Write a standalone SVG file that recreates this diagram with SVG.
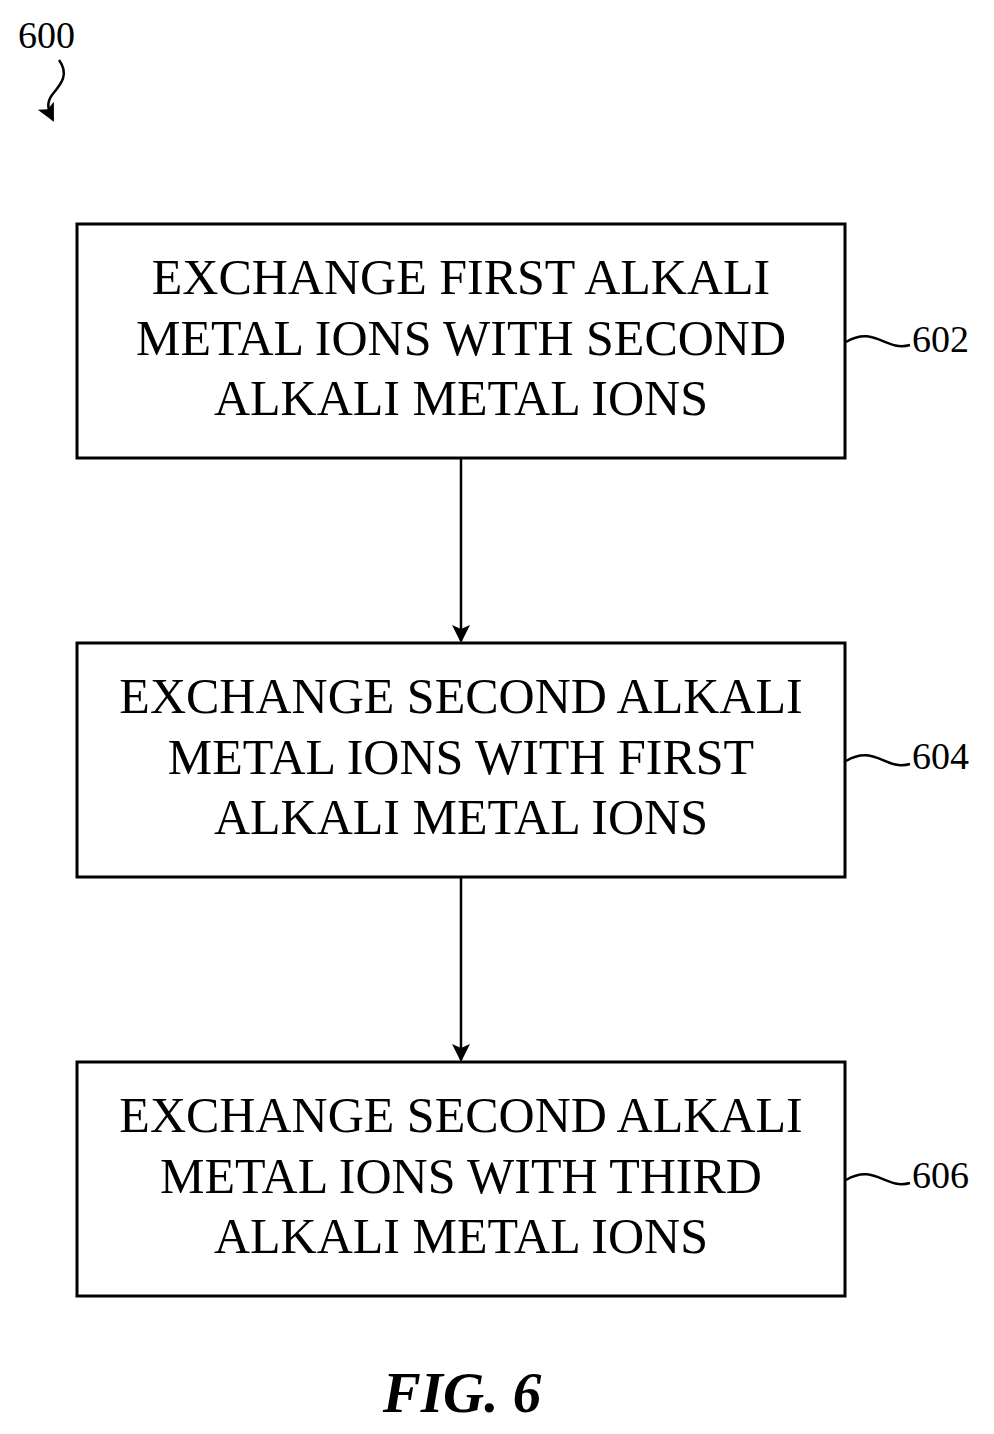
<svg xmlns="http://www.w3.org/2000/svg" width="994" height="1434" viewBox="0 0 994 1434">
<style>
.box{fill:#fff;stroke:#000;stroke-width:3}
.t{font-family:"Liberation Serif",serif;font-size:50px;text-anchor:middle}
.r{font-family:"Liberation Serif",serif;font-size:38px}
.ln{fill:none;stroke:#000;stroke-width:2.5}
</style>
<defs>
<marker id="b" markerWidth="18" markerHeight="20" refX="16" refY="10" orient="auto" markerUnits="userSpaceOnUse"><path d="M0,1 L18,10 L0,19 L4,10 Z"/></marker></defs>
<text class="r" x="18" y="48">600</text>
<path class="ln" d="M59,60 C70,75 60,85 52,95 C46,103 48,110 53,120" marker-end="url(#b)"/>
<g id="n602"><rect class="box" x="77" y="224" width="768" height="234"/>
<text class="t" x="461" y="294">EXCHANGE FIRST ALKALI</text><text class="t" x="461" y="355">METAL IONS WITH SECOND</text><text class="t" x="461" y="415">ALKALI METAL IONS</text>
<path class="ln" d="M846,342 C875,325 885,352 910,345"/><text class="r" x="912" y="352">602</text></g>
<g id="n604"><rect class="box" x="77" y="643" width="768" height="234"/>
<text class="t" x="461" y="713">EXCHANGE SECOND ALKALI</text><text class="t" x="461" y="774">METAL IONS WITH FIRST</text><text class="t" x="461" y="834">ALKALI METAL IONS</text>
<path class="ln" d="M846,761 C875,744 885,771 910,764"/><text class="r" x="912" y="769">604</text></g>
<g id="n606"><rect class="box" x="77" y="1062" width="768" height="234"/>
<text class="t" x="461" y="1132">EXCHANGE SECOND ALKALI</text><text class="t" x="461" y="1193">METAL IONS WITH THIRD</text><text class="t" x="461" y="1253">ALKALI METAL IONS</text>
<path class="ln" d="M846,1180 C875,1163 885,1190 910,1183"/><text class="r" x="912" y="1188">606</text></g>
<g id="connectors"><path class="ln" d="M461,458 V641" marker-end="url(#b)"/><path class="ln" d="M461,877 V1060" marker-end="url(#b)"/></g>
<text x="462" y="1412" style="font-family:'Liberation Serif',serif;font-size:57px;font-style:italic;font-weight:bold;text-anchor:middle">FIG. 6</text>
</svg>
